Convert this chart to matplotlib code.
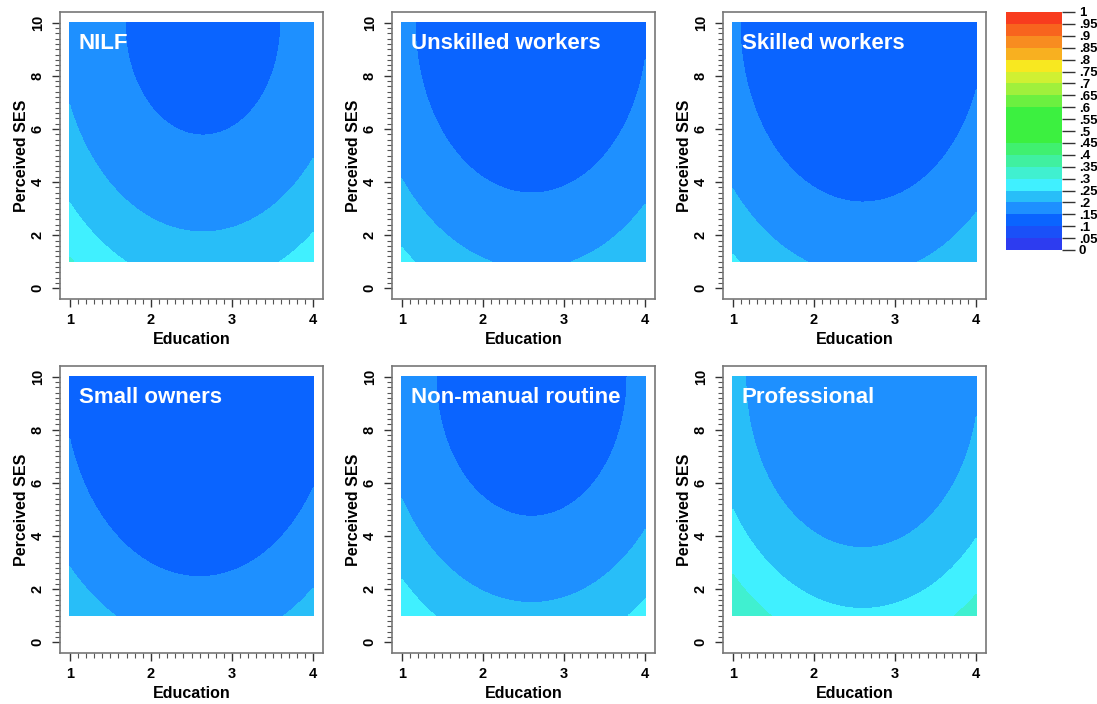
import matplotlib.pyplot as plt
import numpy as np
from matplotlib.colors import ListedColormap, BoundaryNorm

plt.rcParams['font.family'] = ['Liberation Sans', 'DejaVu Sans']
plt.rcParams['font.weight'] = 'bold'

# six classes, predicted probability surface over education x perceived SES
panel_titles = ['NILF', 'Unskilled workers', 'Skilled workers',
                'Small owners', 'Non-manual routine', 'Professional']

# logit(p) = peak + edu_curv*(edu - edu_peak)^2 + ses_curv*(10 - ses)^2
peak_logit = [-1.876, -2.055, -2.09, -2.165, -1.95, -1.73]
edu_curv = [0.154, 0.156, 0.156, 0.152, 0.156, 0.166]
ses_curv = [0.0079, 0.0078, 0.0078, 0.0076, 0.0078, 0.0083]
edu_peak = [2.64, 2.6, 2.6, 2.6, 2.6, 2.6]

levels = np.round(np.arange(0, 1.0001, 0.05), 2)
level_labels = ['0', '.05', '.1', '.15', '.2', '.25', '.3', '.35', '.4', '.45',
                '.5', '.55', '.6', '.65', '.7', '.75', '.8', '.85', '.9', '.95', '1']
band_colors = ['#2d3cf0', '#1a50f8', '#0a64ff', '#1e90ff', '#28bef8',
               '#40f0ff', '#40f0d0', '#40f0a0', '#40f070', '#3cf040',
               '#3cf040', '#3cf040', '#6cf040', '#a0f03c', '#d0f032',
               '#f8e820', '#f8b020', '#f88c20', '#f8641e', '#f83c1e']

cmap = ListedColormap(band_colors)
norm = BoundaryNorm(levels, cmap.N)

W, H = 1097, 704
fig = plt.figure(figsize=(W / 100, H / 100), dpi=100)

lefts = [60, 392, 723]
tops = [12, 366]
pw, ph = 263, 287

edu = np.linspace(1, 4, 301)
ses = np.linspace(1, 10, 301)
E, S = np.meshgrid(edu, ses)

for i, title in enumerate(panel_titles):
    r, c = divmod(i, 3)
    ax = fig.add_axes([lefts[c] / W, 1 - (tops[r] + ph) / H, pw / W, ph / H])
    logit = peak_logit[i] + edu_curv[i] * (E - edu_peak[i]) ** 2 + ses_curv[i] * (10 - S) ** 2
    prob = 1 / (1 + np.exp(-logit))
    ax.contourf(E, S, prob, levels=levels, cmap=cmap, norm=norm)

    ax.set_xlim(0.88, 4.12)
    ax.set_ylim(-0.4, 10.4)
    ax.set_xticks([1, 2, 3, 4])
    ax.set_xticks(np.arange(1, 4.001, 0.1), minor=True)
    ax.set_yticks([0, 2, 4, 6, 8, 10])
    ax.set_yticks(np.arange(0, 10.001, 0.2), minor=True)
    ax.tick_params(which='major', direction='out', length=6, width=1,
                   color='#333333', labelsize=10.5)
    ax.tick_params(axis='x', which='major', pad=4)
    ax.tick_params(axis='y', which='major', pad=5)
    ax.tick_params(which='minor', direction='out', length=3.5, width=0.8,
                   color='#555555')
    for lab in ax.get_yticklabels():
        lab.set_rotation(90)
        lab.set_va('center')
    for sp in ax.spines.values():
        sp.set_color('#777777')
        sp.set_linewidth(1.2)

    ax.set_xlabel('Education', fontsize=11.5, fontweight='bold', labelpad=4)
    ax.set_ylabel('Perceived SES', fontsize=11.5, fontweight='bold', labelpad=1)
    ax.text(1.11, 9.0, title, color='white', fontsize=16, fontweight='bold',
            ha='left', va='baseline')

# colour key
cax = fig.add_axes([1006 / W, 1 - 250 / H, 56 / W, 238 / H])
sm = plt.cm.ScalarMappable(cmap=cmap, norm=norm)
cb = fig.colorbar(sm, cax=cax, ticks=levels)
cb.outline.set_visible(False)
cb.ax.set_yticklabels(level_labels)
cb.ax.tick_params(length=9, width=1, color='#333333', labelsize=9.5, pad=3)

fig.savefig('out.png', dpi=100)
